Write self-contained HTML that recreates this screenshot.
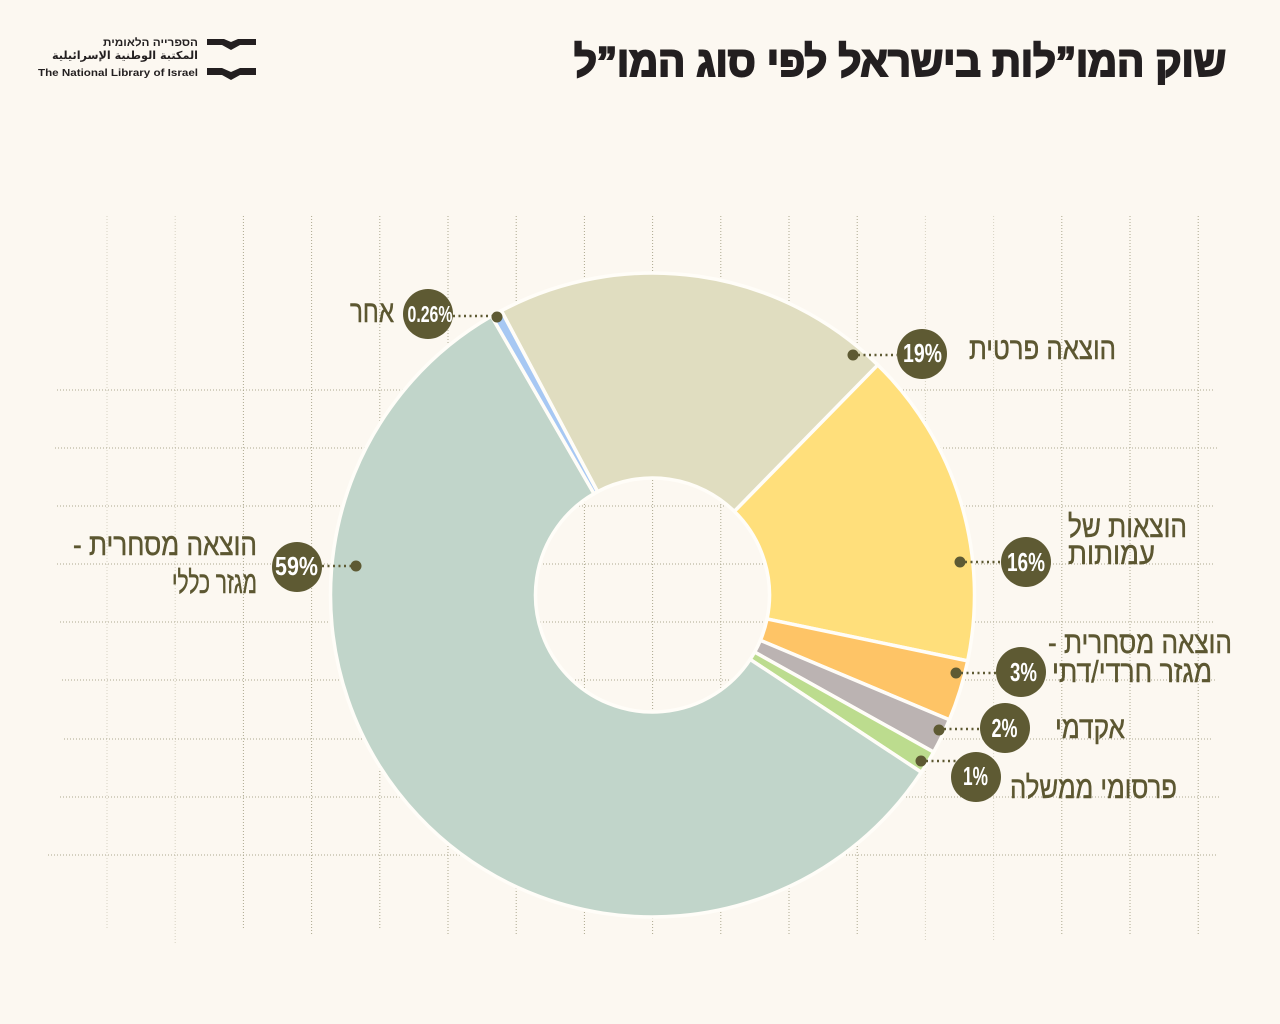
<!DOCTYPE html>
<html>
<head>
<meta charset="utf-8">
<style>
html,body{margin:0;padding:0;background:#fcf8f1;}
svg{display:block;}
.lbl{font-family:"Liberation Sans","DejaVu Sans",sans-serif;font-size:31px;fill:#5c5731;stroke:#5c5731;stroke-width:0.5px;}
.pct{font-family:"Liberation Sans","DejaVu Sans",sans-serif;font-weight:bold;font-size:26px;fill:#ffffff;}
</style>
</head>
<body>
<svg width="1280" height="1024" viewBox="0 0 1280 1024" xmlns="http://www.w3.org/2000/svg">
<rect width="1280" height="1024" fill="#fcf8f1"/>

<!-- grid -->
<g stroke-width="1" stroke-dasharray="1 2" fill="none">
  <g stroke="#d6d2c2">
    <line x1="107" y1="216" x2="107" y2="930"/>
    <line x1="175.2" y1="216" x2="175.2" y2="945"/>
    <line x1="925.4" y1="216" x2="925.4" y2="940"/>
    <line x1="993.6" y1="216" x2="993.6" y2="940"/>
  </g>
  <g stroke="#aca88f">
    <line x1="243.4" y1="216" x2="243.4" y2="930"/>
    <line x1="311.6" y1="216" x2="311.6" y2="935"/>
    <line x1="379.8" y1="216" x2="379.8" y2="930"/>
    <line x1="448" y1="216" x2="448" y2="935"/>
    <line x1="516.2" y1="216" x2="516.2" y2="935"/>
    <line x1="584.4" y1="216" x2="584.4" y2="935"/>
    <line x1="652.6" y1="216" x2="652.6" y2="935"/>
    <line x1="720.8" y1="216" x2="720.8" y2="935"/>
    <line x1="789" y1="216" x2="789" y2="935"/>
    <line x1="857.2" y1="216" x2="857.2" y2="935"/>
    <line x1="1061.8" y1="216" x2="1061.8" y2="935"/>
    <line x1="1130" y1="216" x2="1130" y2="935"/>
    <line x1="1198.2" y1="216" x2="1198.2" y2="935"/>
  </g>
  <g stroke="#aca88f">
    <line x1="57" y1="390" x2="1213" y2="390"/>
    <line x1="55" y1="448" x2="1217" y2="448"/>
    <line x1="57" y1="506" x2="1215" y2="506"/>
    <line x1="57" y1="564" x2="1215" y2="564"/>
    <line x1="60" y1="622" x2="1215" y2="622"/>
    <line x1="62" y1="680" x2="1215" y2="680"/>
    <line x1="64" y1="739" x2="1213" y2="739"/>
    <line x1="60" y1="797" x2="1220" y2="797"/>
    <line x1="48" y1="855" x2="1217" y2="855"/>
  </g>
</g>

<!-- donut -->
<g stroke="#fffdf8" stroke-width="3.5" stroke-linejoin="miter">
  <path fill="#e0ddc0" d="M501.33,310.69 A322,322 0 0 1 877.79,364.94 L734.36,511.41 A117,117 0 0 0 597.57,491.69 Z"/>
  <path fill="#ffdf7b" d="M877.79,364.94 A322,322 0 0 1 967.70,660.85 L767.03,618.93 A117,117 0 0 0 734.36,511.41 Z"/>
  <path fill="#fec466" d="M967.70,660.85 A322,322 0 0 1 949.34,719.78 L760.36,640.34 A117,117 0 0 0 767.03,618.93 Z"/>
  <path fill="#bbb3b2" d="M949.34,719.78 A322,322 0 0 1 933.59,752.09 L754.63,652.08 A117,117 0 0 0 760.36,640.34 Z"/>
  <path fill="#bcdc8e" d="M933.59,752.09 A322,322 0 0 1 921.32,772.25 L750.18,659.41 A117,117 0 0 0 754.63,652.08 Z"/>
  <path fill="#c1d5ca" d="M921.32,772.25 A322,322 0 1 1 491.5,316.14 L594.0,493.68 A117,117 0 1 0 750.18,659.41 Z"/>
  <path fill="#a7c8f3" d="M491.5,316.14 A322,322 0 0 1 501.33,310.69 L597.57,491.69 A117,117 0 0 0 594.0,493.68 Z"/>
</g>

<!-- connectors -->
<g stroke="#5e5a33" stroke-width="2.5" stroke-dasharray="2 3.5" fill="none">
  <line x1="453" y1="316" x2="492" y2="316"/>
  <line x1="858" y1="355" x2="897" y2="355"/>
  <line x1="965" y1="562" x2="1001" y2="562"/>
  <line x1="961" y1="673" x2="996" y2="673"/>
  <line x1="944" y1="729" x2="980" y2="729"/>
  <line x1="926" y1="761" x2="957" y2="761"/>
  <line x1="322" y1="566" x2="351" y2="566"/>
</g>

<!-- dots -->
<g fill="#5e5a33">
  <circle cx="497" cy="317" r="5.5"/>
  <circle cx="853" cy="355" r="5.5"/>
  <circle cx="960" cy="562" r="5.5"/>
  <circle cx="956" cy="673" r="5.5"/>
  <circle cx="939" cy="730" r="5.5"/>
  <circle cx="921" cy="761" r="5.5"/>
  <circle cx="356" cy="566" r="5.5"/>
</g>

<!-- badges -->
<g fill="#5e5a33">
  <circle cx="428" cy="314" r="25"/>
  <circle cx="922" cy="354" r="25"/>
  <circle cx="1026" cy="562" r="25"/>
  <circle cx="1021" cy="672" r="25"/>
  <circle cx="1005" cy="728" r="25"/>
  <circle cx="976" cy="777" r="25"/>
  <circle cx="297" cy="567" r="25"/>
</g>
<g class="pct" text-anchor="middle">
  <text x="430" y="322" font-size="23" textLength="45" lengthAdjust="spacingAndGlyphs">0.26%</text>
  <text x="922.5" y="362" textLength="39" lengthAdjust="spacingAndGlyphs">19%</text>
  <text x="1026" y="571" textLength="38" lengthAdjust="spacingAndGlyphs">16%</text>
  <text x="1023.5" y="681" textLength="27" lengthAdjust="spacingAndGlyphs">3%</text>
  <text x="1004.5" y="737" textLength="26" lengthAdjust="spacingAndGlyphs">2%</text>
  <text x="975.5" y="785" textLength="25" lengthAdjust="spacingAndGlyphs">1%</text>
  <text x="296.5" y="575" textLength="43" lengthAdjust="spacingAndGlyphs">59%</text>
</g>

<!-- labels -->
<g class="lbl" text-anchor="middle" direction="rtl">
  <text x="372" y="322" textLength="44" lengthAdjust="spacingAndGlyphs">אחר</text>
  <text x="1042.5" y="359" textLength="147" lengthAdjust="spacingAndGlyphs">הוצאה פרטית</text>
  <text x="1127.5" y="537" textLength="119" lengthAdjust="spacingAndGlyphs">הוצאות של</text>
  <text x="1111.5" y="564" textLength="87" lengthAdjust="spacingAndGlyphs">עמותות</text>
  <text x="1140" y="653" textLength="184" lengthAdjust="spacingAndGlyphs">הוצאה מסחרית -</text>
  <text x="1132" y="682" textLength="160" lengthAdjust="spacingAndGlyphs">מגזר חרדי/דתי</text>
  <text x="1090" y="738" textLength="70" lengthAdjust="spacingAndGlyphs">אקדמי</text>
  <text x="1093.5" y="798" textLength="167" lengthAdjust="spacingAndGlyphs">פרסומי ממשלה</text>
  <text x="165" y="555" textLength="184" lengthAdjust="spacingAndGlyphs">הוצאה מסחרית -</text>
  <text x="214.5" y="593" textLength="85" lengthAdjust="spacingAndGlyphs">מגזר כללי</text>
</g>

<!-- title -->
<text x="900" y="76" text-anchor="middle" direction="rtl" font-family="Liberation Sans, DejaVu Sans, sans-serif" font-weight="bold" font-size="42" fill="#231f20" stroke="#231f20" stroke-width="2" textLength="652" lengthAdjust="spacingAndGlyphs">שוק המו”לות בישראל לפי סוג המו”ל</text>

<!-- logo -->
<g fill="#231f20">
  <polygon points="207,39 224,39 231,42 238,39 256,39 256,45 240,45 231,50 222,45 207,45"/>
  <polygon points="207,68 222,68 231,72 240,68 256,68 256,75 240,75 231,80 222,75 207,75"/>
</g>
<g font-family="Liberation Sans, DejaVu Sans, sans-serif" font-weight="bold" fill="#231f20" text-anchor="middle">
  <text x="150.5" y="46" font-size="11" direction="rtl" textLength="95" lengthAdjust="spacingAndGlyphs">הספרייה הלאומית</text>
  <text x="125" y="59" font-size="11" font-family="DejaVu Sans, sans-serif" direction="rtl" textLength="146" lengthAdjust="spacingAndGlyphs">المكتبة الوطنية الإسرائيلية</text>
  <text x="118" y="76" font-size="10.5" textLength="160" lengthAdjust="spacingAndGlyphs">The National Library of Israel</text>
</g>
</svg>
</body>
</html>
